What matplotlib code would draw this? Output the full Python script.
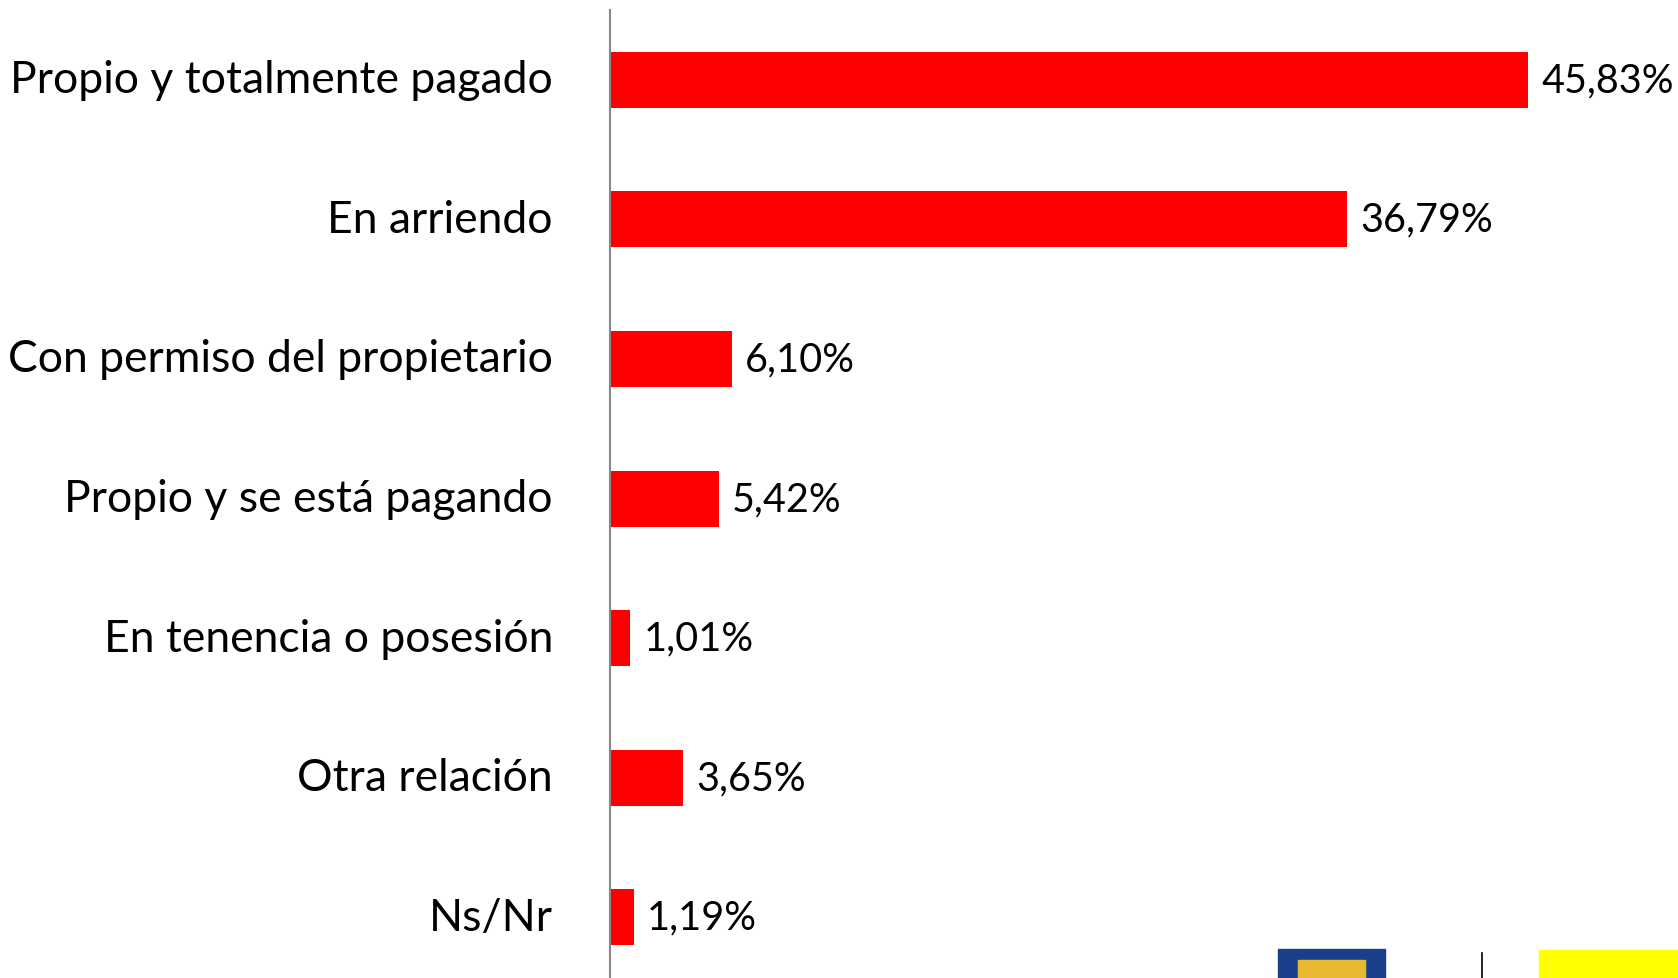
import matplotlib.pyplot as plt
import matplotlib.patches as mpatches

categorias = ["Propio y totalmente pagado", "En arriendo", "Con permiso del propietario",
              "Propio y se está pagando", "En tenencia o posesión", "Otra relación", "Ns/Nr"]
valores = [45.83, 36.79, 6.10, 5.42, 1.01, 3.65, 1.19]
etiquetas = ["45,83%", "36,79%", "6,10%", "5,42%", "1,01%", "3,65%", "1,19%"]

W, H = 1678, 979
fig = plt.figure(figsize=(W / 100, H / 100), dpi=100)
plt.rcParams['font.family'] = ['Lato', 'DejaVu Sans']

ax = fig.add_axes([610 / W, -5 / H, 1 - 610 / W, (H - 11 + 5) / H])
y = range(len(categorias))
ax.barh(y, valores, height=0.40, color='#ff0000')
ax.set_ylim(6.47, -0.5)
ax.set_xlim(0, 53.3)

for i, (v, t) in enumerate(zip(valores, etiquetas)):
    ax.text(v + 0.65, i, t, va='center', ha='left', fontsize=28.5, color='black')

for i, c in enumerate(categorias):
    ax.text(-2.85, i, c, va='center', ha='right', fontsize=32, color='black')

for s in ['top', 'right', 'bottom']:
    ax.spines[s].set_visible(False)
ax.spines['left'].set_color('#888888')
ax.spines['left'].set_linewidth(1.5)
ax.set_xticks([])
ax.set_yticks([])

# logos recortados en la esquina inferior
fig.patches.append(mpatches.Rectangle((1278 / W, 0), 107 / W, 29 / H, transform=fig.transFigure,
                                      color='#1a3f8a', zorder=5))
fig.patches.append(mpatches.Rectangle((1298 / W, 0), 67 / W, 18 / H, transform=fig.transFigure,
                                      color='#e8b930', zorder=6))
fig.lines.append(plt.Line2D([1482 / W, 1482 / W], [0, 25 / H], transform=fig.transFigure,
                            color='black', lw=1.2))
fig.patches.append(mpatches.Rectangle((1539 / W, 0), 139 / W, 28 / H, transform=fig.transFigure,
                                      color='#ffff00', zorder=5))

fig.savefig('out.png', dpi=100)
